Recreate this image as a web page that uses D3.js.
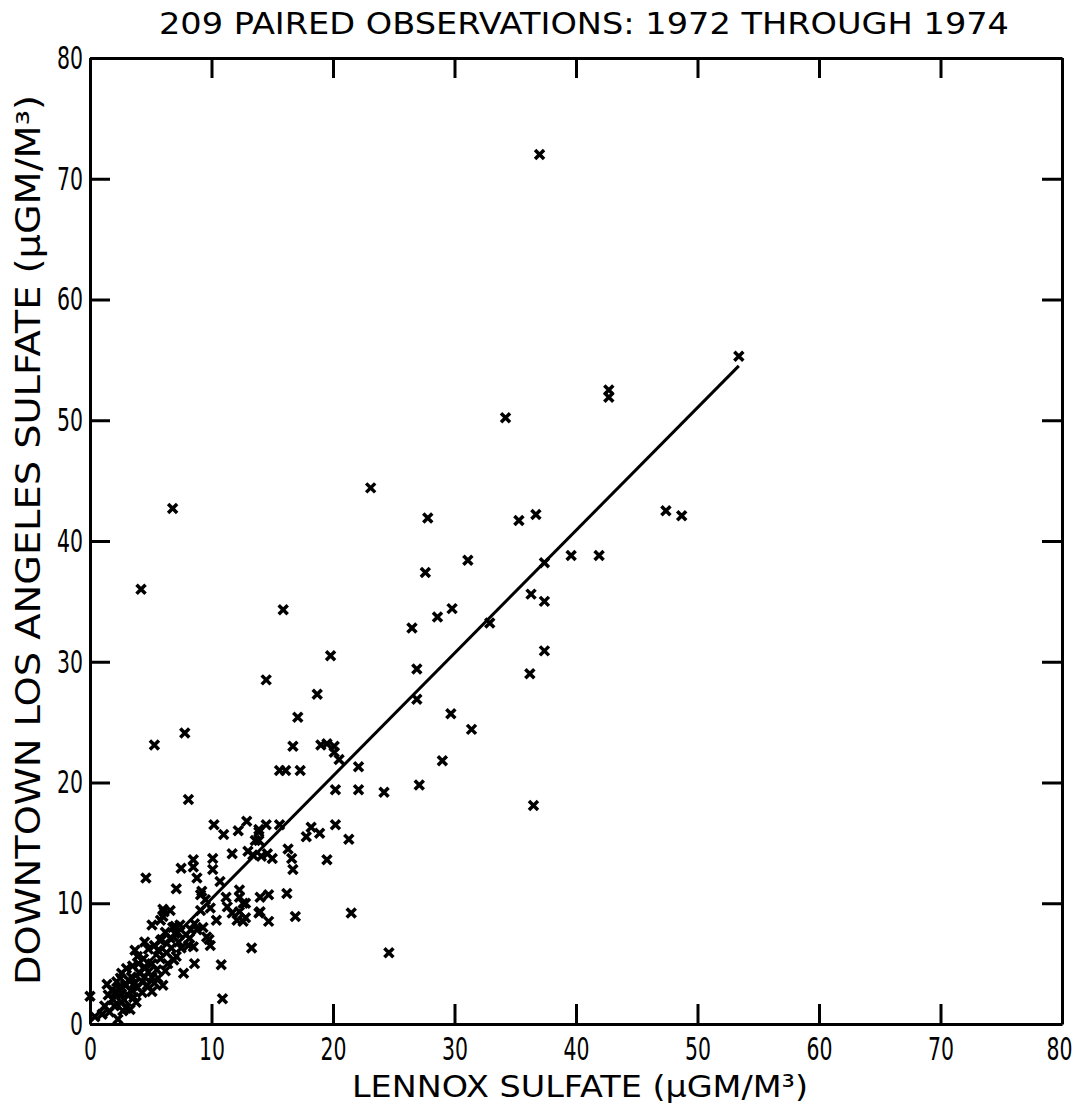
<!DOCTYPE html>
<html>
<head>
<meta charset="utf-8">
<script src="https://cdn.jsdelivr.net/npm/d3@7"></script>
<style>
  body { margin: 0; background: #fff; }
  text { font-family: "DejaVu Sans", sans-serif; fill: #000; }
</style>
</head>
<body>
<script>
// Lennox (x) vs downtown LA (y) sulfate
const lennox = [
  37.0, 53.4, 42.7, 42.7, 34.2, 23.1, 6.8, 27.8, 35.3, 36.7,
  47.4, 48.7, 31.1, 39.6, 41.9, 37.4, 27.6, 4.2, 15.9, 29.8,
  28.6, 26.5, 32.9, 36.3, 37.4, 19.8, 37.4, 36.2, 26.9, 14.5,
  18.7, 26.9, 17.1, 29.7, 31.4, 7.8, 5.3, 16.7, 19.0, 19.5,
  20.1, 20.1, 20.5, 15.6, 16.1, 17.3, 22.1, 29.0, 20.2, 22.1,
  24.2, 27.1, 36.5, 8.1, 18.2, 18.9, 20.2, 17.8, 21.3, 12.9,
  13.9, 14.5, 15.6, 13.6, 16.3, 16.6, 16.7, 19.5, 13.4, 14.1,
  15.0, 12.3, 12.6, 14.0, 14.7, 16.2, 13.9, 14.7, 12.6, 16.9,
  21.5, 13.3, 24.6, 10.2, 8.5, 8.5, 7.5, 4.6, 8.8, 10.1,
  10.1, 7.1, 9.1, 9.5, 6.1, 6.6, 11.0, 12.2, 13.9, 13.9,
  11.7, 10.7, 9.2, 11.2, 12.3, 9.9, 11.3, 11.7, 12.3, 12.8,
  12.1, 12.8, 14.0, 10.4, 9.1, 6.0, 7.4, 8.8, 9.6, 8.2,
  9.9, 8.5, 10.9, 5.1, 7.0, 4.5, 5.9, 6.6, 3.7, 5.6,
  7.5, 8.1, 8.6, 6.4, 6.9, 7.7, 6.0, 5.1, 2.6, 3.4,
  4.5, 5.1, 2.2, 2.9, 3.7, 4.3, 1.8, 2.6, 3.4, 1.9,
  2.6, 3.0, 2.3, 0.0, 0.4, 4.5, 5.1, 5.5, 4.0, 4.4,
  10.8, 3.3, 13.0, 14.6, 6.0, 5.8, 6.8, 7.2, 8.6, 9.3,
  9.8, 1.2, 1.5, 2.0, 2.1, 2.4, 2.8, 3.1, 3.2, 3.6,
  3.9, 4.1, 4.3, 4.7, 4.8, 5.3, 5.6, 5.8, 6.2, 6.3,
  6.7, 7.1, 7.3, 7.9, 8.3, 1.4, 2.5, 3.0, 3.5, 3.9,
  4.8, 5.3, 5.8, 6.2, 7.0, 1.0, 1.6, 2.7, 3.8
];
const downtown = [
  72.0, 55.3, 52.5, 51.9, 50.2, 44.4, 42.7, 41.9, 41.7, 42.2,
  42.5, 42.1, 38.4, 38.8, 38.8, 38.2, 37.4, 36.0, 34.3, 34.4,
  33.7, 32.8, 33.2, 35.6, 35.0, 30.5, 30.9, 29.0, 29.4, 28.5,
  27.3, 26.9, 25.4, 25.7, 24.4, 24.1, 23.1, 23.0, 23.1, 23.2,
  23.0, 22.5, 21.9, 21.0, 21.0, 21.0, 21.3, 21.8, 19.4, 19.4,
  19.2, 19.8, 18.1, 18.6, 16.3, 15.8, 16.5, 15.5, 15.3, 16.8,
  16.1, 16.5, 16.5, 15.2, 14.5, 13.7, 12.8, 13.6, 14.0, 13.9,
  13.7, 10.5, 10.0, 10.5, 10.7, 10.8, 9.2, 8.5, 8.5, 8.9,
  9.2, 6.3, 5.9, 16.5, 13.6, 13.0, 12.9, 12.1, 12.1, 13.7,
  12.8, 11.2, 10.7, 10.3, 9.3, 9.4, 15.7, 16.0, 15.9, 15.2,
  14.1, 11.8, 11.0, 10.5, 11.1, 9.6, 9.7, 9.2, 9.3, 10.0,
  8.6, 8.8, 9.3, 8.6, 9.4, 8.9, 8.2, 7.8, 7.2, 7.1,
  6.5, 6.4, 2.1, 8.2, 8.1, 6.8, 7.0, 7.1, 6.1, 6.1,
  6.3, 6.5, 5.0, 5.0, 5.3, 4.2, 3.2, 2.7, 4.2, 3.9,
  3.9, 3.9, 3.5, 3.2, 3.4, 3.5, 2.8, 2.5, 2.8, 2.0,
  1.8, 1.3, 0.4, 2.3, 0.6, 4.7, 5.0, 4.5, 5.0, 5.4,
  4.9, 1.2, 14.3, 14.1, 9.5, 8.6, 8.0, 7.6, 8.3, 8.0,
  7.0, 1.5, 2.4, 1.5, 2.6, 3.0, 2.0, 2.4, 3.6, 2.2,
  3.0, 4.2, 2.6, 3.2, 4.3, 3.4, 3.8, 5.4, 4.4, 5.9,
  6.3, 5.6, 6.8, 7.4, 7.8, 3.3, 3.8, 4.6, 4.8, 5.6,
  6.2, 6.5, 6.9, 7.6, 7.5, 0.8, 1.0, 1.1, 1.8
];

// fitted line end points
const fitX = [0, 53.4];
const fitY = [0.2, 54.5];

const tickVals = [0, 10, 20, 30, 40, 50, 60, 70, 80];

const titleText = "209 PAIRED OBSERVATIONS: 1972 THROUGH 1974";
const xLabel = "LENNOX SULFATE (\u00b5GM/M\u00b3)";
const yLabel = "DOWNTOWN LOS ANGELES SULFATE (\u00b5GM/M\u00b3)";

const W = 1086, H = 1107;
const svg = d3.select("body").append("svg")
  .attr("width", W)
  .attr("height", H);

const x = d3.scaleLinear().domain([0, 80]).range([90, 1062]);
const y = d3.scaleLinear().domain([0, 80]).range([1024, 58]);

// axes, ticks pointing inward on all four sides
function styleAxis(g, labelWidth) {
  g.select(".domain").attr("stroke-width", 3);
  g.selectAll(".tick line").attr("stroke-width", 3);
  g.selectAll(".tick text")
    .attr("font-size", 32)
    .attr("textLength", d => labelWidth ? String(d).length * 13 : null)
    .attr("lengthAdjust", "spacingAndGlyphs");
}

svg.append("g")
  .attr("transform", `translate(0,${y(0)})`)
  .call(d3.axisBottom(x).tickValues(tickVals).tickSizeInner(-20).tickSizeOuter(0).tickPadding(13))
  .call(g => styleAxis(g, true))
  .call(g => g.selectAll(".tick text").attr("dx", d => d === 80 ? -3 : 0));

svg.append("g")
  .attr("transform", `translate(0,${y(80)})`)
  .call(d3.axisTop(x).tickValues(tickVals).tickSizeInner(-20).tickSizeOuter(0).tickFormat(""))
  .call(g => styleAxis(g, false));

svg.append("g")
  .attr("transform", `translate(${x(0)},0)`)
  .call(d3.axisLeft(y).tickValues(tickVals).tickSizeInner(-20).tickSizeOuter(0).tickPadding(7))
  .call(g => styleAxis(g, true));

svg.append("g")
  .attr("transform", `translate(${x(80)},0)`)
  .call(d3.axisRight(y).tickValues(tickVals).tickSizeInner(-20).tickSizeOuter(0).tickFormat(""))
  .call(g => styleAxis(g, false));

// regression line
svg.append("line")
  .attr("x1", x(fitX[0])).attr("y1", y(fitY[0]))
  .attr("x2", x(fitX[1])).attr("y2", y(fitY[1]))
  .attr("stroke", "#000")
  .attr("stroke-width", 3);

// points as bold x marks
const pts = lennox.map((v, i) => [v, downtown[i]]);
svg.append("g")
  .selectAll("path")
  .data(pts)
  .join("path")
  .attr("transform", d => `translate(${x(d[0])},${y(d[1])})`)
  .attr("d", "M-4.5,-4.5L4.5,4.5M-4.5,4.5L4.5,-4.5")
  .attr("stroke", "#000")
  .attr("stroke-width", 3.5)
  .attr("fill", "none");

// titles
svg.append("text")
  .attr("x", 584).attr("y", 34)
  .attr("text-anchor", "middle")
  .attr("font-size", 31)
  .attr("textLength", 850)
  .attr("lengthAdjust", "spacingAndGlyphs")
  .text(titleText);

svg.append("text")
  .attr("x", 580).attr("y", 1097)
  .attr("text-anchor", "middle")
  .attr("font-size", 31)
  .attr("textLength", 456)
  .attr("lengthAdjust", "spacingAndGlyphs")
  .text(xLabel);

svg.append("text")
  .attr("transform", "translate(40,540) rotate(-90)")
  .attr("text-anchor", "middle")
  .attr("font-size", 33)
  .attr("textLength", 890)
  .attr("lengthAdjust", "spacingAndGlyphs")
  .text(yLabel);
</script>
</body>
</html>
